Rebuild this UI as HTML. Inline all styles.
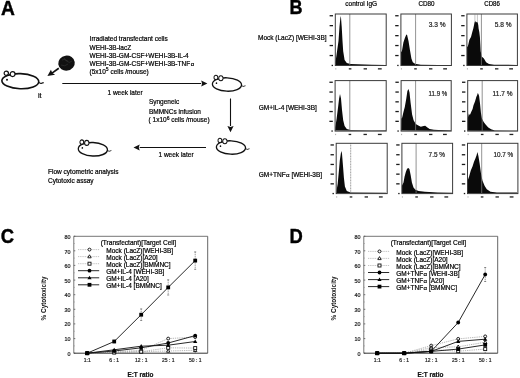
<!DOCTYPE html>
<html><head><meta charset="utf-8"><title>Figure</title>
<style>
html,body{margin:0;padding:0;background:#fff;width:520px;height:378px;overflow:hidden;}
svg{display:block;}
text{font-family:"Liberation Sans", Arial, Helvetica, sans-serif;}
</style></head>
<body>
<svg width="520" height="378" viewBox="0 0 520 378">
<rect width="520" height="378" fill="#fff"/>
<text transform="translate(0.9 14.75) scale(0.97 1)" font-size="19.8" font-weight="bold" fill="#000" stroke="#000" stroke-width="0.4">A</text>
<g transform="translate(1.10,72.90) scale(1.0,1.0)" stroke="#111" stroke-width="1.6" fill="none"><ellipse cx="19.2" cy="8.3" rx="18.45" ry="7.55" transform="rotate(2 19.2 8.3)" fill="#fff"/><path d="M38.0 9.4 Q39.3 10.9 40.6 10.4 Q41.6 9.9 42.6 9.7" stroke-width="1.1"/><circle cx="5.2" cy="0.3" r="2.15" fill="#fff" stroke-width="1.2"/><circle cx="11.5" cy="1.2" r="2.45" fill="#fff" stroke-width="1.2"/><circle cx="5.9" cy="6.8" r="1.0" fill="#111" stroke="none"/></g>
<g transform="translate(211.80,77.20) scale(0.79,0.88)" stroke="#111" stroke-width="1.65" fill="none"><ellipse cx="19.2" cy="8.3" rx="18.45" ry="7.55" transform="rotate(2 19.2 8.3)" fill="#fff"/><path d="M38.0 9.4 Q39.3 10.9 40.6 10.4 Q41.6 9.9 42.6 9.7" stroke-width="1.1"/><circle cx="5.2" cy="0.3" r="2.41" fill="#fff" stroke-width="1.2"/><circle cx="11.5" cy="1.2" r="2.74" fill="#fff" stroke-width="1.2"/><circle cx="5.9" cy="6.8" r="1.0" fill="#111" stroke="none"/></g>
<g transform="translate(215.80,140.20) scale(0.79,0.88)" stroke="#111" stroke-width="1.65" fill="none"><ellipse cx="19.2" cy="8.3" rx="18.45" ry="7.55" transform="rotate(2 19.2 8.3)" fill="#fff"/><path d="M38.0 9.4 Q39.3 10.9 40.6 10.4 Q41.6 9.9 42.6 9.7" stroke-width="1.1"/><circle cx="5.2" cy="0.3" r="2.41" fill="#fff" stroke-width="1.2"/><circle cx="11.5" cy="1.2" r="2.74" fill="#fff" stroke-width="1.2"/><circle cx="5.9" cy="6.8" r="1.0" fill="#111" stroke="none"/></g>
<g transform="translate(77.70,141.80) scale(0.79,0.9)" stroke="#111" stroke-width="1.65" fill="none"><ellipse cx="19.2" cy="8.3" rx="18.45" ry="7.55" transform="rotate(2 19.2 8.3)" fill="#fff"/><path d="M38.0 9.4 Q39.3 10.9 40.6 10.4 Q41.6 9.9 42.6 9.7" stroke-width="1.1"/><circle cx="5.2" cy="0.3" r="2.41" fill="#fff" stroke-width="1.2"/><circle cx="11.5" cy="1.2" r="2.74" fill="#fff" stroke-width="1.2"/><circle cx="5.9" cy="6.8" r="1.0" fill="#111" stroke="none"/></g>
<ellipse cx="66.5" cy="63.1" rx="8.3" ry="7.5" transform="rotate(-8 66.5 63.1)" fill="#111"/>
<path d="M62 60 q3 -2 5 1 q2 3 5 0 M61 65 q4 2 7 -1 M64 58 q2 4 4 3" stroke="#3a3a3a" stroke-width="0.5" fill="none"/>
<line x1="58.8" y1="68.3" x2="52.0" y2="73.1" stroke="#111" stroke-width="1.7"/>
<path d="M47.4 76.0 L50.9 69.8 L52.4 72.9 L55.1 74.7 Z" fill="#111"/>
<text x="37.90" y="98.30" font-size="7.2" font-weight="normal" text-anchor="start" fill="#000" stroke="#000" stroke-width="0.2" >it</text>
<text x="89.60" y="41.40" font-size="6.5" font-weight="normal" text-anchor="start" fill="#000" stroke="#000" stroke-width="0.2" >Irradiated transfectant cells</text>
<text x="89.60" y="49.50" font-size="6.5" font-weight="normal" text-anchor="start" fill="#000" stroke="#000" stroke-width="0.2" >WEHI-3B-lacZ</text>
<text x="89.60" y="57.60" font-size="6.5" font-weight="normal" text-anchor="start" fill="#000" stroke="#000" stroke-width="0.2" >WEHI-3B-GM-CSF+WEHI-3B-IL-4</text>
<text x="89.60" y="65.70" font-size="6.5" font-weight="normal" text-anchor="start" fill="#000" stroke="#000" stroke-width="0.2" >WEHI-3B-GM-CSF+WEHI-3B-TNF<tspan font-size="6.0" dx="0.6" dy="0.4">α</tspan></text>
<text x="89.60" y="73.80" font-size="6.5" font-weight="normal" text-anchor="start" fill="#000" stroke="#000" stroke-width="0.2" >(5x10<tspan font-size="5" dy="-2.5">5</tspan><tspan dy="2.5"> cells /mouse)</tspan></text>
<line x1="62.3" y1="83.5" x2="201.20000000000002" y2="83.5" stroke="#111" stroke-width="1.1"/>
<path d="M207.4 83.5 L201.20000000000002 80.4 L202.10000000000002 83.5 L201.20000000000002 86.6 Z" fill="#111"/>
<text x="107.50" y="95.00" font-size="6.5" font-weight="normal" text-anchor="start" fill="#000" stroke="#000" stroke-width="0.2" >1 week later</text>
<line x1="230.5" y1="98.5" x2="230.5" y2="125.99999999999999" stroke="#111" stroke-width="1.1"/>
<path d="M230.5 132.2 L227.4 125.99999999999999 L230.5 126.89999999999999 L233.6 125.99999999999999 Z" fill="#111"/>
<text x="148.90" y="104.40" font-size="6.5" font-weight="normal" text-anchor="start" fill="#000" stroke="#000" stroke-width="0.2" >Syngeneic</text>
<text x="148.90" y="113.70" font-size="6.5" font-weight="normal" text-anchor="start" fill="#000" stroke="#000" stroke-width="0.2" >BMMNCs infusion</text>
<text x="148.60" y="122.20" font-size="6.5" font-weight="normal" text-anchor="start" fill="#000" stroke="#000" stroke-width="0.2" >( 1x10<tspan font-size="5" dy="-2.5">6</tspan><tspan dy="2.5"> cells /mouse)</tspan></text>
<line x1="206.0" y1="147.5" x2="139.7" y2="147.5" stroke="#111" stroke-width="1.1"/>
<path d="M133.5 147.5 L139.7 144.4 L138.79999999999998 147.5 L139.7 150.6 Z" fill="#111"/>
<text x="158.50" y="156.50" font-size="6.5" font-weight="normal" text-anchor="start" fill="#000" stroke="#000" stroke-width="0.2" >1 week later</text>
<text x="48.10" y="173.80" font-size="6.5" font-weight="normal" text-anchor="start" fill="#000" stroke="#000" stroke-width="0.2" >Flow cytometric analysis</text>
<text x="48.00" y="182.70" font-size="6.5" font-weight="normal" text-anchor="start" fill="#000" stroke="#000" stroke-width="0.2" >Cytotoxic assay</text>
<text transform="translate(289.5 14.35) scale(0.92 1)" font-size="19.6" font-weight="bold" fill="#000" stroke="#000" stroke-width="0.4">B</text>
<text x="345.30" y="5.90" font-size="6.5" font-weight="normal" text-anchor="start" fill="#000" stroke="#000" stroke-width="0.2" >control IgG</text>
<text x="418.50" y="5.70" font-size="6.5" font-weight="normal" text-anchor="start" fill="#000" stroke="#000" stroke-width="0.2" textLength="16" lengthAdjust="spacingAndGlyphs">CD80</text>
<text x="484.30" y="5.70" font-size="6.5" font-weight="normal" text-anchor="start" fill="#000" stroke="#000" stroke-width="0.2" textLength="15.6" lengthAdjust="spacingAndGlyphs">CD86</text>
<text x="258.00" y="40.30" font-size="6.5" font-weight="normal" text-anchor="start" fill="#000" stroke="#000" stroke-width="0.2" >Mock (LacZ) [WEHI-3B]</text>
<text x="258.80" y="109.60" font-size="6.5" font-weight="normal" text-anchor="start" fill="#000" stroke="#000" stroke-width="0.2" >GM+IL-4 [WEHI-3B]</text>
<text x="258.80" y="176.60" font-size="6.5" font-weight="normal" text-anchor="start" fill="#000" stroke="#000" stroke-width="0.2" >GM+TNF<tspan font-size="6.2" dx="0.3">α</tspan> [WEHI-3B]</text>
<path d="M335.5 65.2 L335.5 62.0 L338.5 41.0 L339.5 26.5 L340.6 16.0 L341.0 17.8 L341.7 26.6 L342.5 41.1 L343.2 51.3 L344.6 60.0 L346.8 63.0 L350.5 64.1 L372.0 64.7 L386.0 64.9 L386.2 65.5 Z" fill="#0a0a0a"/>
<line x1="349.8" y1="14.0" x2="349.8" y2="65.5" stroke="#777" stroke-width="0.8"/>
<rect x="335.3" y="14.0" width="50.9" height="51.5" fill="none" stroke="#3a3a3a" stroke-width="1.0"/>
<rect x="331.6" y="64.8" width="1.4" height="1.3" fill="#1a1a1a"/>
<rect x="329.6" y="54.9" width="3.4" height="1.3" fill="#1a1a1a"/>
<rect x="329.6" y="44.9" width="3.4" height="1.3" fill="#1a1a1a"/>
<rect x="329.6" y="35.0" width="3.4" height="1.3" fill="#1a1a1a"/>
<rect x="329.6" y="25.0" width="3.4" height="1.3" fill="#1a1a1a"/>
<rect x="329.6" y="15.1" width="3.4" height="1.3" fill="#1a1a1a"/>
<rect x="335.3" y="68.2" width="1.0" height="1.3" fill="#aaa"/>
<rect x="348.8" y="68.2" width="2.6" height="1.3" fill="#222"/>
<rect x="363.6" y="68.2" width="3.4" height="1.3" fill="#222"/>
<rect x="377.9" y="68.2" width="3.8" height="1.3" fill="#222"/>
<path d="M401.0 65.2 L401.0 52.0 L401.9 51.3 L403.4 42.6 L404.8 38.2 L406.3 34.6 L407.1 35.0 L408.5 41.1 L409.9 49.8 L411.4 58.6 L412.8 62.2 L415.0 63.7 L420.8 64.7 L438.3 65.0 L451.0 65.1 L451.4 65.5 Z" fill="#0a0a0a"/>
<line x1="415.6" y1="14.0" x2="415.6" y2="65.5" stroke="#777" stroke-width="0.8"/>
<rect x="400.9" y="14.0" width="50.5" height="51.5" fill="none" stroke="#3a3a3a" stroke-width="1.0"/>
<rect x="397.2" y="64.8" width="1.4" height="1.3" fill="#1a1a1a"/>
<rect x="395.2" y="54.9" width="3.4" height="1.3" fill="#1a1a1a"/>
<rect x="395.2" y="44.9" width="3.4" height="1.3" fill="#1a1a1a"/>
<rect x="395.2" y="35.0" width="3.4" height="1.3" fill="#1a1a1a"/>
<rect x="395.2" y="25.0" width="3.4" height="1.3" fill="#1a1a1a"/>
<rect x="395.2" y="15.1" width="3.4" height="1.3" fill="#1a1a1a"/>
<rect x="400.9" y="68.2" width="1.0" height="1.3" fill="#aaa"/>
<rect x="414.2" y="68.2" width="2.6" height="1.3" fill="#222"/>
<rect x="429.0" y="68.2" width="3.4" height="1.3" fill="#222"/>
<rect x="443.2" y="68.2" width="3.8" height="1.3" fill="#222"/>
<text x="428.70" y="26.50" font-size="6.6" font-weight="normal" text-anchor="start" fill="#222" stroke="#222" stroke-width="0.2" textLength="16.9" lengthAdjust="spacingAndGlyphs">3.3 %</text>
<path d="M467.0 65.4 L467.0 46.9 L467.9 46.2 L469.4 39.7 L471.0 37.0 L472.3 31.9 L473.3 28.6 L474.0 25.2 L474.6 21.9 L475.5 21.3 L476.5 22.2 L477.6 21.9 L478.3 25.2 L478.6 28.6 L479.3 31.9 L479.9 37.0 L480.3 44.0 L480.7 51.3 L481.7 56.4 L483.9 58.6 L486.1 62.2 L489.0 64.1 L494.1 64.7 L517.0 64.9 L517.4 65.5 Z" fill="#0a0a0a"/>
<line x1="474.9" y1="14.5" x2="474.9" y2="22.5" stroke="#aaa" stroke-width="0.7"/>
<line x1="477.4" y1="14.5" x2="477.4" y2="22.5" stroke="#aaa" stroke-width="0.7"/>
<line x1="481.4" y1="14.0" x2="481.4" y2="65.5" stroke="#777" stroke-width="0.8"/>
<rect x="466.9" y="14.0" width="50.5" height="51.5" fill="none" stroke="#3a3a3a" stroke-width="1.0"/>
<rect x="463.2" y="64.8" width="1.4" height="1.3" fill="#1a1a1a"/>
<rect x="461.2" y="54.9" width="3.4" height="1.3" fill="#1a1a1a"/>
<rect x="461.2" y="44.9" width="3.4" height="1.3" fill="#1a1a1a"/>
<rect x="461.2" y="35.0" width="3.4" height="1.3" fill="#1a1a1a"/>
<rect x="461.2" y="25.0" width="3.4" height="1.3" fill="#1a1a1a"/>
<rect x="461.2" y="15.1" width="3.4" height="1.3" fill="#1a1a1a"/>
<rect x="466.9" y="68.2" width="1.0" height="1.3" fill="#aaa"/>
<rect x="480.2" y="68.2" width="2.6" height="1.3" fill="#222"/>
<rect x="495.0" y="68.2" width="3.4" height="1.3" fill="#222"/>
<rect x="509.2" y="68.2" width="3.8" height="1.3" fill="#222"/>
<text x="494.70" y="26.50" font-size="6.6" font-weight="normal" text-anchor="start" fill="#222" stroke="#222" stroke-width="0.2" textLength="16.8" lengthAdjust="spacingAndGlyphs">5.8 %</text>
<path d="M335.2 130.6 L335.3 127.5 L336.6 118.8 L338.1 107.1 L339.1 98.4 L340.0 94.0 L341.0 98.4 L342.0 110.0 L343.2 120.2 L344.6 126.0 L346.8 129.0 L350.5 130.1 L372.0 130.4 L386.0 130.5 L386.2 131.1 Z" fill="#0a0a0a"/>
<line x1="349.8" y1="80.6" x2="349.8" y2="131.1" stroke="#777" stroke-width="0.8"/>
<rect x="335.1" y="80.6" width="51.1" height="50.5" fill="none" stroke="#3a3a3a" stroke-width="1.0"/>
<rect x="331.4" y="130.4" width="1.4" height="1.3" fill="#1a1a1a"/>
<rect x="329.4" y="120.7" width="3.4" height="1.3" fill="#1a1a1a"/>
<rect x="329.4" y="110.9" width="3.4" height="1.3" fill="#1a1a1a"/>
<rect x="329.4" y="101.2" width="3.4" height="1.3" fill="#1a1a1a"/>
<rect x="329.4" y="91.4" width="3.4" height="1.3" fill="#1a1a1a"/>
<rect x="329.4" y="81.6" width="3.4" height="1.3" fill="#1a1a1a"/>
<rect x="335.1" y="133.8" width="1.0" height="1.3" fill="#aaa"/>
<rect x="348.6" y="133.8" width="2.6" height="1.3" fill="#222"/>
<rect x="363.5" y="133.8" width="3.4" height="1.3" fill="#222"/>
<rect x="377.9" y="133.8" width="3.8" height="1.3" fill="#222"/>
<path d="M401.1 130.6 L401.3 118.8 L402.2 117.6 L403.4 112.2 L404.8 107.1 L406.3 98.4 L407.4 91.1 L408.5 88.9 L409.5 92.6 L410.6 102.7 L412.1 114.4 L413.6 120.2 L415.7 123.9 L417.9 125.3 L420.8 126.8 L423.7 126.0 L425.2 125.7 L427.4 127.5 L429.6 128.9 L433.9 129.7 L438.3 130.1 L451.0 130.4 L451.2 131.1 Z" fill="#0a0a0a"/>
<line x1="415.6" y1="80.6" x2="415.6" y2="131.1" stroke="#777" stroke-width="0.8"/>
<rect x="401.1" y="80.6" width="50.1" height="50.5" fill="none" stroke="#3a3a3a" stroke-width="1.0"/>
<rect x="397.4" y="130.4" width="1.4" height="1.3" fill="#1a1a1a"/>
<rect x="395.4" y="120.7" width="3.4" height="1.3" fill="#1a1a1a"/>
<rect x="395.4" y="110.9" width="3.4" height="1.3" fill="#1a1a1a"/>
<rect x="395.4" y="101.2" width="3.4" height="1.3" fill="#1a1a1a"/>
<rect x="395.4" y="91.4" width="3.4" height="1.3" fill="#1a1a1a"/>
<rect x="395.4" y="81.6" width="3.4" height="1.3" fill="#1a1a1a"/>
<rect x="401.1" y="133.8" width="1.0" height="1.3" fill="#aaa"/>
<rect x="414.3" y="133.8" width="2.6" height="1.3" fill="#222"/>
<rect x="429.0" y="133.8" width="3.4" height="1.3" fill="#222"/>
<rect x="443.0" y="133.8" width="3.8" height="1.3" fill="#222"/>
<text x="428.60" y="95.60" font-size="6.6" font-weight="normal" text-anchor="start" fill="#222" stroke="#222" stroke-width="0.2" textLength="18.6" lengthAdjust="spacingAndGlyphs">11.9 %</text>
<path d="M467.8 130.8 L467.8 118.1 L468.9 113.5 L469.8 115.2 L471.3 111.7 L472.6 108.9 L473.5 105.2 L475.0 101.5 L476.3 96.9 L477.2 95.0 L477.8 93.0 L478.4 93.9 L479.1 95.9 L480.0 103.3 L480.9 112.6 L481.9 118.5 L483.7 121.9 L485.6 124.6 L488.3 127.4 L491.1 129.3 L494.8 130.6 L517.0 130.8 L517.6 131.1 Z" fill="#0a0a0a"/>
<line x1="482.2" y1="80.6" x2="482.2" y2="131.1" stroke="#777" stroke-width="0.8"/>
<rect x="467.7" y="80.6" width="49.9" height="50.5" fill="none" stroke="#3a3a3a" stroke-width="1.0"/>
<rect x="464.0" y="130.4" width="1.4" height="1.3" fill="#1a1a1a"/>
<rect x="462.0" y="120.7" width="3.4" height="1.3" fill="#1a1a1a"/>
<rect x="462.0" y="110.9" width="3.4" height="1.3" fill="#1a1a1a"/>
<rect x="462.0" y="101.2" width="3.4" height="1.3" fill="#1a1a1a"/>
<rect x="462.0" y="91.4" width="3.4" height="1.3" fill="#1a1a1a"/>
<rect x="462.0" y="81.6" width="3.4" height="1.3" fill="#1a1a1a"/>
<rect x="467.7" y="133.8" width="1.0" height="1.3" fill="#aaa"/>
<rect x="480.9" y="133.8" width="2.6" height="1.3" fill="#222"/>
<rect x="495.4" y="133.8" width="3.4" height="1.3" fill="#222"/>
<rect x="509.5" y="133.8" width="3.8" height="1.3" fill="#222"/>
<text x="492.60" y="95.60" font-size="6.6" font-weight="normal" text-anchor="start" fill="#222" stroke="#222" stroke-width="0.2" textLength="19.9" lengthAdjust="spacingAndGlyphs">11.7 %</text>
<path d="M336.4 193.0 L336.6 190.2 L337.7 183.7 L338.8 172.0 L339.8 160.4 L341.0 152.4 L341.4 150.9 L342.0 153.8 L342.9 164.7 L343.9 177.8 L344.9 186.6 L346.8 190.9 L350.5 192.4 L386.0 192.8 L387.2 193.6 Z" fill="#0a0a0a"/>
<line x1="350.7" y1="143.3" x2="350.7" y2="193.6" stroke="#777" stroke-width="0.8" stroke-dasharray="1 0.6"/>
<rect x="336.2" y="143.3" width="51.0" height="50.3" fill="none" stroke="#3a3a3a" stroke-width="1.0"/>
<rect x="332.5" y="192.9" width="1.4" height="1.3" fill="#1a1a1a"/>
<rect x="330.5" y="183.2" width="3.4" height="1.3" fill="#1a1a1a"/>
<rect x="330.5" y="173.5" width="3.4" height="1.3" fill="#1a1a1a"/>
<rect x="330.5" y="163.8" width="3.4" height="1.3" fill="#1a1a1a"/>
<rect x="330.5" y="154.1" width="3.4" height="1.3" fill="#1a1a1a"/>
<rect x="330.5" y="144.3" width="3.4" height="1.3" fill="#1a1a1a"/>
<rect x="336.2" y="196.3" width="1.0" height="1.3" fill="#aaa"/>
<rect x="349.7" y="196.3" width="2.6" height="1.3" fill="#222"/>
<rect x="364.6" y="196.3" width="3.4" height="1.3" fill="#222"/>
<rect x="378.9" y="196.3" width="3.8" height="1.3" fill="#222"/>
<path d="M401.9 193.2 L401.9 185.8 L403.5 182.6 L404.6 176.6 L405.9 171.8 L407.1 168.8 L408.3 167.9 L409.4 169.1 L410.6 174.7 L411.9 182.6 L413.5 187.4 L415.4 189.8 L418.6 190.9 L424.9 191.8 L437.6 192.5 L452.0 192.8 L452.6 193.6 Z" fill="#0a0a0a"/>
<line x1="416.1" y1="143.3" x2="416.1" y2="193.6" stroke="#777" stroke-width="0.8"/>
<rect x="401.9" y="143.3" width="50.7" height="50.3" fill="none" stroke="#3a3a3a" stroke-width="1.0"/>
<rect x="398.2" y="192.9" width="1.4" height="1.3" fill="#1a1a1a"/>
<rect x="396.2" y="183.2" width="3.4" height="1.3" fill="#1a1a1a"/>
<rect x="396.2" y="173.5" width="3.4" height="1.3" fill="#1a1a1a"/>
<rect x="396.2" y="163.8" width="3.4" height="1.3" fill="#1a1a1a"/>
<rect x="396.2" y="154.1" width="3.4" height="1.3" fill="#1a1a1a"/>
<rect x="396.2" y="144.3" width="3.4" height="1.3" fill="#1a1a1a"/>
<rect x="401.9" y="196.3" width="1.0" height="1.3" fill="#aaa"/>
<rect x="415.3" y="196.3" width="2.6" height="1.3" fill="#222"/>
<rect x="430.1" y="196.3" width="3.4" height="1.3" fill="#222"/>
<rect x="444.4" y="196.3" width="3.8" height="1.3" fill="#222"/>
<text x="428.60" y="156.60" font-size="6.6" font-weight="normal" text-anchor="start" fill="#222" stroke="#222" stroke-width="0.2" textLength="16.5" lengthAdjust="spacingAndGlyphs">7.5 %</text>
<path d="M467.4 193.0 L467.6 180.8 L469.1 176.4 L470.8 170.6 L472.6 166.2 L474.0 161.8 L475.5 158.2 L476.6 155.3 L477.4 152.0 L478.4 156.0 L479.6 163.3 L481.0 173.5 L482.5 180.8 L484.7 185.9 L486.8 189.2 L490.5 191.7 L497.0 192.4 L517.0 192.6 L517.9 193.6 Z" fill="#0a0a0a"/>
<line x1="481.7" y1="143.3" x2="481.7" y2="193.6" stroke="#777" stroke-width="0.8"/>
<rect x="467.5" y="143.3" width="50.4" height="50.3" fill="none" stroke="#3a3a3a" stroke-width="1.0"/>
<rect x="463.8" y="192.9" width="1.4" height="1.3" fill="#1a1a1a"/>
<rect x="461.8" y="183.2" width="3.4" height="1.3" fill="#1a1a1a"/>
<rect x="461.8" y="173.5" width="3.4" height="1.3" fill="#1a1a1a"/>
<rect x="461.8" y="163.8" width="3.4" height="1.3" fill="#1a1a1a"/>
<rect x="461.8" y="154.1" width="3.4" height="1.3" fill="#1a1a1a"/>
<rect x="461.8" y="144.3" width="3.4" height="1.3" fill="#1a1a1a"/>
<rect x="467.5" y="196.3" width="1.0" height="1.3" fill="#aaa"/>
<rect x="480.8" y="196.3" width="2.6" height="1.3" fill="#222"/>
<rect x="495.5" y="196.3" width="3.4" height="1.3" fill="#222"/>
<rect x="509.7" y="196.3" width="3.8" height="1.3" fill="#222"/>
<text x="493.40" y="156.60" font-size="6.6" font-weight="normal" text-anchor="start" fill="#222" stroke="#222" stroke-width="0.2" textLength="19.9" lengthAdjust="spacingAndGlyphs">10.7 %</text>
<text transform="translate(0.7 243.3) scale(0.93 1)" font-size="19.8" font-weight="bold" fill="#000" stroke="#000" stroke-width="0.4">C</text>
<line x1="73.8" y1="236.3" x2="207.7" y2="236.3" stroke="#666" stroke-width="0.9"/>
<line x1="207.7" y1="236.3" x2="207.7" y2="353.2" stroke="#555" stroke-width="0.9"/>
<line x1="73.8" y1="236.3" x2="73.8" y2="353.2" stroke="#777" stroke-width="1.0"/>
<line x1="73.8" y1="353.2" x2="207.7" y2="353.2" stroke="#333" stroke-width="1.0"/>
<text x="70.50" y="355.55" font-size="5.4" font-weight="normal" text-anchor="end" fill="#222" stroke="#222" stroke-width="0.2" >0</text>
<line x1="73.8" y1="353.2" x2="75.3" y2="353.2" stroke="#444" stroke-width="0.7"/>
<text x="70.50" y="341.00" font-size="5.4" font-weight="normal" text-anchor="end" fill="#222" stroke="#222" stroke-width="0.2" >10</text>
<line x1="73.8" y1="338.6" x2="75.3" y2="338.6" stroke="#444" stroke-width="0.7"/>
<text x="70.50" y="326.45" font-size="5.4" font-weight="normal" text-anchor="end" fill="#222" stroke="#222" stroke-width="0.2" >20</text>
<line x1="73.8" y1="323.9" x2="75.3" y2="323.9" stroke="#444" stroke-width="0.7"/>
<text x="70.50" y="311.90" font-size="5.4" font-weight="normal" text-anchor="end" fill="#222" stroke="#222" stroke-width="0.2" >30</text>
<line x1="73.8" y1="309.3" x2="75.3" y2="309.3" stroke="#444" stroke-width="0.7"/>
<text x="70.50" y="297.35" font-size="5.4" font-weight="normal" text-anchor="end" fill="#222" stroke="#222" stroke-width="0.2" >40</text>
<line x1="73.8" y1="294.7" x2="75.3" y2="294.7" stroke="#444" stroke-width="0.7"/>
<text x="70.50" y="282.80" font-size="5.4" font-weight="normal" text-anchor="end" fill="#222" stroke="#222" stroke-width="0.2" >50</text>
<line x1="73.8" y1="280.1" x2="75.3" y2="280.1" stroke="#444" stroke-width="0.7"/>
<text x="70.50" y="268.25" font-size="5.4" font-weight="normal" text-anchor="end" fill="#222" stroke="#222" stroke-width="0.2" >60</text>
<line x1="73.8" y1="265.4" x2="75.3" y2="265.4" stroke="#444" stroke-width="0.7"/>
<text x="70.50" y="253.70" font-size="5.4" font-weight="normal" text-anchor="end" fill="#222" stroke="#222" stroke-width="0.2" >70</text>
<line x1="73.8" y1="250.8" x2="75.3" y2="250.8" stroke="#444" stroke-width="0.7"/>
<text x="70.50" y="239.15" font-size="5.4" font-weight="normal" text-anchor="end" fill="#222" stroke="#222" stroke-width="0.2" >80</text>
<line x1="73.8" y1="236.2" x2="75.3" y2="236.2" stroke="#444" stroke-width="0.7"/>
<line x1="73.8" y1="345.9" x2="74.8" y2="345.9" stroke="#888" stroke-width="0.6"/>
<line x1="73.8" y1="331.3" x2="74.8" y2="331.3" stroke="#888" stroke-width="0.6"/>
<line x1="73.8" y1="316.6" x2="74.8" y2="316.6" stroke="#888" stroke-width="0.6"/>
<line x1="73.8" y1="302.0" x2="74.8" y2="302.0" stroke="#888" stroke-width="0.6"/>
<line x1="73.8" y1="287.4" x2="74.8" y2="287.4" stroke="#888" stroke-width="0.6"/>
<line x1="73.8" y1="272.8" x2="74.8" y2="272.8" stroke="#888" stroke-width="0.6"/>
<line x1="73.8" y1="258.1" x2="74.8" y2="258.1" stroke="#888" stroke-width="0.6"/>
<line x1="73.8" y1="243.5" x2="74.8" y2="243.5" stroke="#888" stroke-width="0.6"/>
<text x="87.20" y="362.20" font-size="5.0" font-weight="normal" text-anchor="middle" fill="#222" stroke="#222" stroke-width="0.2" >1:1</text>
<line x1="87.2" y1="353.2" x2="87.2" y2="351.9" stroke="#444" stroke-width="0.6"/>
<text x="114.20" y="362.20" font-size="5.0" font-weight="normal" text-anchor="middle" fill="#222" stroke="#222" stroke-width="0.2" >6 : 1</text>
<line x1="114.2" y1="353.2" x2="114.2" y2="351.9" stroke="#444" stroke-width="0.6"/>
<text x="141.20" y="362.20" font-size="5.0" font-weight="normal" text-anchor="middle" fill="#222" stroke="#222" stroke-width="0.2" >12 : 1</text>
<line x1="141.2" y1="353.2" x2="141.2" y2="351.9" stroke="#444" stroke-width="0.6"/>
<text x="168.20" y="362.20" font-size="5.0" font-weight="normal" text-anchor="middle" fill="#222" stroke="#222" stroke-width="0.2" >25 : 1</text>
<line x1="168.2" y1="353.2" x2="168.2" y2="351.9" stroke="#444" stroke-width="0.6"/>
<text x="195.20" y="362.20" font-size="5.0" font-weight="normal" text-anchor="middle" fill="#222" stroke="#222" stroke-width="0.2" >50 : 1</text>
<line x1="195.2" y1="353.2" x2="195.2" y2="351.9" stroke="#444" stroke-width="0.6"/>
<text x="140.40" y="376.60" font-size="6.4" font-weight="bold" text-anchor="middle" fill="#111" stroke="#111" stroke-width="0.2" >E:T ratio</text>
<text x="0" y="0" transform="translate(45.9 298.4) rotate(-90)" font-size="6.4" font-weight="bold" text-anchor="middle" fill="#111">% Cytotoxicity</text>
<text x="100.70" y="244.80" font-size="6.5" font-weight="normal" text-anchor="start" fill="#000" stroke="#000" stroke-width="0.2" textLength="75.4" lengthAdjust="spacingAndGlyphs">(Transfectant)[Target Cell]</text>
<line x1="78.0" y1="249.6" x2="99.19999999999999" y2="249.6" stroke="#999" stroke-width="0.6" stroke-dasharray="1.3 0.9"/>
<circle cx="89.5" cy="249.6" r="1.45" fill="#fff" stroke="#111" stroke-width="0.95"/>
<text x="106.30" y="253.20" font-size="6.5" font-weight="normal" text-anchor="start" fill="#000" stroke="#000" stroke-width="0.2" >Mock (LacZ)[WEHI-3B]</text>
<line x1="78.0" y1="256.6" x2="99.19999999999999" y2="256.6" stroke="#999" stroke-width="0.6" stroke-dasharray="1.3 0.9"/>
<path d="M89.5 254.8 L91.2 257.8 L87.8 257.8 Z" fill="#fff" stroke="#111" stroke-width="0.9"/>
<text x="106.30" y="260.24" font-size="6.5" font-weight="normal" text-anchor="start" fill="#000" stroke="#000" stroke-width="0.2" >Mock (LacZ)[A20]</text>
<line x1="78.0" y1="263.7" x2="99.19999999999999" y2="263.7" stroke="#999" stroke-width="0.6" stroke-dasharray="1.3 0.9"/>
<rect x="88.0" y="262.2" width="3" height="3" fill="#fff" stroke="#111" stroke-width="0.9"/>
<text x="106.30" y="267.28" font-size="6.5" font-weight="normal" text-anchor="start" fill="#000" stroke="#000" stroke-width="0.2" >Mock (LacZ)[BMMNC]</text>
<line x1="78.0" y1="270.7" x2="99.19999999999999" y2="270.7" stroke="#111" stroke-width="0.9"/>
<circle cx="89.5" cy="270.7" r="1.9" fill="#000"/>
<text x="106.30" y="274.32" font-size="6.5" font-weight="normal" text-anchor="start" fill="#000" stroke="#000" stroke-width="0.2" >GM+IL-4 [WEHI-3B]</text>
<line x1="78.0" y1="277.8" x2="99.19999999999999" y2="277.8" stroke="#111" stroke-width="0.9"/>
<path d="M89.5 275.7 L91.6 279.3 L87.4 279.3 Z" fill="#000"/>
<text x="106.30" y="281.36" font-size="6.5" font-weight="normal" text-anchor="start" fill="#000" stroke="#000" stroke-width="0.2" >GM+IL-4 [A20]</text>
<line x1="78.0" y1="284.8" x2="99.19999999999999" y2="284.8" stroke="#111" stroke-width="0.9"/>
<rect x="87.6" y="282.9" width="3.8" height="3.8" fill="#000"/>
<text x="106.30" y="288.40" font-size="6.5" font-weight="normal" text-anchor="start" fill="#000" stroke="#000" stroke-width="0.2" >GM+IL-4 [BMMNC]</text>
<polyline points="87.2,353.2 114.2,351.7 141.2,350.3 168.2,338.6 195.2,337.1" fill="none" stroke="#888" stroke-width="0.6" stroke-dasharray="1.3 0.9"/>
<polyline points="87.2,353.2 114.2,352.5 141.2,351.7 168.2,351.0 195.2,350.3" fill="none" stroke="#888" stroke-width="0.6" stroke-dasharray="1.3 0.9"/>
<polyline points="87.2,353.2 114.2,352.5 141.2,351.7 168.2,347.8 195.2,348.1" fill="none" stroke="#888" stroke-width="0.6" stroke-dasharray="1.3 0.9"/>
<polyline points="87.2,353.2 114.2,351.0 141.2,347.8 168.2,343.0 195.2,335.6" fill="none" stroke="#111" stroke-width="0.9"/>
<polyline points="87.2,353.2 114.2,349.8 141.2,346.2 168.2,345.2 195.2,341.5" fill="none" stroke="#111" stroke-width="0.9"/>
<polyline points="87.2,353.2 114.2,341.5 141.2,314.7 168.2,287.4 195.2,260.6" fill="none" stroke="#111" stroke-width="0.9"/>
<line x1="114.2" y1="340.3" x2="114.2" y2="342.7" stroke="#555" stroke-width="0.6" stroke-dasharray="1.2 0.7"/>
<line x1="113.2" y1="340.3" x2="115.2" y2="340.3" stroke="#444" stroke-width="0.6"/>
<line x1="113.2" y1="342.7" x2="115.2" y2="342.7" stroke="#444" stroke-width="0.6"/>
<line x1="141.2" y1="308.9" x2="141.2" y2="320.5" stroke="#555" stroke-width="0.6" stroke-dasharray="1.2 0.7"/>
<line x1="140.2" y1="308.9" x2="142.2" y2="308.9" stroke="#444" stroke-width="0.6"/>
<line x1="140.2" y1="320.5" x2="142.2" y2="320.5" stroke="#444" stroke-width="0.6"/>
<line x1="168.2" y1="279.8" x2="168.2" y2="295.0" stroke="#555" stroke-width="0.6" stroke-dasharray="1.2 0.7"/>
<line x1="167.2" y1="279.8" x2="169.2" y2="279.8" stroke="#444" stroke-width="0.6"/>
<line x1="167.2" y1="295.0" x2="169.2" y2="295.0" stroke="#444" stroke-width="0.6"/>
<line x1="195.2" y1="251.9" x2="195.2" y2="269.3" stroke="#555" stroke-width="0.6" stroke-dasharray="1.2 0.7"/>
<line x1="194.2" y1="251.9" x2="196.2" y2="251.9" stroke="#444" stroke-width="0.6"/>
<line x1="194.2" y1="269.3" x2="196.2" y2="269.3" stroke="#444" stroke-width="0.6"/>
<circle cx="87.2" cy="353.2" r="1.45" fill="#fff" stroke="#111" stroke-width="0.95"/>
<circle cx="114.2" cy="351.7" r="1.45" fill="#fff" stroke="#111" stroke-width="0.95"/>
<circle cx="141.2" cy="350.3" r="1.45" fill="#fff" stroke="#111" stroke-width="0.95"/>
<circle cx="168.2" cy="338.6" r="1.45" fill="#fff" stroke="#111" stroke-width="0.95"/>
<circle cx="195.2" cy="337.1" r="1.45" fill="#fff" stroke="#111" stroke-width="0.95"/>
<path d="M87.2 351.4 L88.9 354.4 L85.5 354.4 Z" fill="#fff" stroke="#111" stroke-width="0.9"/>
<path d="M114.2 350.7 L115.9 353.7 L112.5 353.7 Z" fill="#fff" stroke="#111" stroke-width="0.9"/>
<path d="M141.2 349.9 L142.9 352.9 L139.5 352.9 Z" fill="#fff" stroke="#111" stroke-width="0.9"/>
<path d="M168.2 349.2 L169.9 352.2 L166.5 352.2 Z" fill="#fff" stroke="#111" stroke-width="0.9"/>
<path d="M195.2 348.5 L196.9 351.5 L193.5 351.5 Z" fill="#fff" stroke="#111" stroke-width="0.9"/>
<rect x="85.7" y="351.7" width="3" height="3" fill="#fff" stroke="#111" stroke-width="0.9"/>
<rect x="112.7" y="351.0" width="3" height="3" fill="#fff" stroke="#111" stroke-width="0.9"/>
<rect x="139.7" y="350.2" width="3" height="3" fill="#fff" stroke="#111" stroke-width="0.9"/>
<rect x="166.7" y="346.3" width="3" height="3" fill="#fff" stroke="#111" stroke-width="0.9"/>
<rect x="193.7" y="346.6" width="3" height="3" fill="#fff" stroke="#111" stroke-width="0.9"/>
<circle cx="87.2" cy="353.2" r="1.9" fill="#000"/>
<circle cx="114.2" cy="351.0" r="1.9" fill="#000"/>
<circle cx="141.2" cy="347.8" r="1.9" fill="#000"/>
<circle cx="168.2" cy="343.0" r="1.9" fill="#000"/>
<circle cx="195.2" cy="335.6" r="1.9" fill="#000"/>
<path d="M87.2 351.1 L89.3 354.7 L85.1 354.7 Z" fill="#000"/>
<path d="M114.2 347.7 L116.3 351.3 L112.1 351.3 Z" fill="#000"/>
<path d="M141.2 344.1 L143.3 347.7 L139.1 347.7 Z" fill="#000"/>
<path d="M168.2 343.1 L170.3 346.7 L166.1 346.7 Z" fill="#000"/>
<path d="M195.2 339.4 L197.3 343.0 L193.1 343.0 Z" fill="#000"/>
<rect x="85.3" y="351.3" width="3.8" height="3.8" fill="#000"/>
<rect x="112.3" y="339.6" width="3.8" height="3.8" fill="#000"/>
<rect x="139.3" y="312.8" width="3.8" height="3.8" fill="#000"/>
<rect x="166.3" y="285.5" width="3.8" height="3.8" fill="#000"/>
<rect x="193.3" y="258.7" width="3.8" height="3.8" fill="#000"/>
<text transform="translate(289.5 243.3) scale(0.93 1)" font-size="19.8" font-weight="bold" fill="#000" stroke="#000" stroke-width="0.4">D</text>
<line x1="363.8" y1="236.3" x2="497.7" y2="236.3" stroke="#666" stroke-width="0.9"/>
<line x1="497.7" y1="236.3" x2="497.7" y2="353.2" stroke="#555" stroke-width="0.9"/>
<line x1="363.8" y1="236.3" x2="363.8" y2="353.2" stroke="#777" stroke-width="1.0"/>
<line x1="363.8" y1="353.2" x2="497.7" y2="353.2" stroke="#333" stroke-width="1.0"/>
<text x="360.50" y="355.55" font-size="5.4" font-weight="normal" text-anchor="end" fill="#222" stroke="#222" stroke-width="0.2" >0</text>
<line x1="363.8" y1="353.2" x2="365.3" y2="353.2" stroke="#444" stroke-width="0.7"/>
<text x="360.50" y="341.00" font-size="5.4" font-weight="normal" text-anchor="end" fill="#222" stroke="#222" stroke-width="0.2" >10</text>
<line x1="363.8" y1="338.6" x2="365.3" y2="338.6" stroke="#444" stroke-width="0.7"/>
<text x="360.50" y="326.45" font-size="5.4" font-weight="normal" text-anchor="end" fill="#222" stroke="#222" stroke-width="0.2" >20</text>
<line x1="363.8" y1="323.9" x2="365.3" y2="323.9" stroke="#444" stroke-width="0.7"/>
<text x="360.50" y="311.90" font-size="5.4" font-weight="normal" text-anchor="end" fill="#222" stroke="#222" stroke-width="0.2" >30</text>
<line x1="363.8" y1="309.3" x2="365.3" y2="309.3" stroke="#444" stroke-width="0.7"/>
<text x="360.50" y="297.35" font-size="5.4" font-weight="normal" text-anchor="end" fill="#222" stroke="#222" stroke-width="0.2" >40</text>
<line x1="363.8" y1="294.7" x2="365.3" y2="294.7" stroke="#444" stroke-width="0.7"/>
<text x="360.50" y="282.80" font-size="5.4" font-weight="normal" text-anchor="end" fill="#222" stroke="#222" stroke-width="0.2" >50</text>
<line x1="363.8" y1="280.1" x2="365.3" y2="280.1" stroke="#444" stroke-width="0.7"/>
<text x="360.50" y="268.25" font-size="5.4" font-weight="normal" text-anchor="end" fill="#222" stroke="#222" stroke-width="0.2" >60</text>
<line x1="363.8" y1="265.4" x2="365.3" y2="265.4" stroke="#444" stroke-width="0.7"/>
<text x="360.50" y="253.70" font-size="5.4" font-weight="normal" text-anchor="end" fill="#222" stroke="#222" stroke-width="0.2" >70</text>
<line x1="363.8" y1="250.8" x2="365.3" y2="250.8" stroke="#444" stroke-width="0.7"/>
<text x="360.50" y="239.15" font-size="5.4" font-weight="normal" text-anchor="end" fill="#222" stroke="#222" stroke-width="0.2" >80</text>
<line x1="363.8" y1="236.2" x2="365.3" y2="236.2" stroke="#444" stroke-width="0.7"/>
<line x1="363.8" y1="345.9" x2="364.8" y2="345.9" stroke="#888" stroke-width="0.6"/>
<line x1="363.8" y1="331.3" x2="364.8" y2="331.3" stroke="#888" stroke-width="0.6"/>
<line x1="363.8" y1="316.6" x2="364.8" y2="316.6" stroke="#888" stroke-width="0.6"/>
<line x1="363.8" y1="302.0" x2="364.8" y2="302.0" stroke="#888" stroke-width="0.6"/>
<line x1="363.8" y1="287.4" x2="364.8" y2="287.4" stroke="#888" stroke-width="0.6"/>
<line x1="363.8" y1="272.8" x2="364.8" y2="272.8" stroke="#888" stroke-width="0.6"/>
<line x1="363.8" y1="258.1" x2="364.8" y2="258.1" stroke="#888" stroke-width="0.6"/>
<line x1="363.8" y1="243.5" x2="364.8" y2="243.5" stroke="#888" stroke-width="0.6"/>
<text x="377.20" y="362.20" font-size="5.0" font-weight="normal" text-anchor="middle" fill="#222" stroke="#222" stroke-width="0.2" >1:1</text>
<line x1="377.2" y1="353.2" x2="377.2" y2="351.9" stroke="#444" stroke-width="0.6"/>
<text x="404.20" y="362.20" font-size="5.0" font-weight="normal" text-anchor="middle" fill="#222" stroke="#222" stroke-width="0.2" >6 : 1</text>
<line x1="404.2" y1="353.2" x2="404.2" y2="351.9" stroke="#444" stroke-width="0.6"/>
<text x="431.20" y="362.20" font-size="5.0" font-weight="normal" text-anchor="middle" fill="#222" stroke="#222" stroke-width="0.2" >12 : 1</text>
<line x1="431.2" y1="353.2" x2="431.2" y2="351.9" stroke="#444" stroke-width="0.6"/>
<text x="458.20" y="362.20" font-size="5.0" font-weight="normal" text-anchor="middle" fill="#222" stroke="#222" stroke-width="0.2" >25 : 1</text>
<line x1="458.2" y1="353.2" x2="458.2" y2="351.9" stroke="#444" stroke-width="0.6"/>
<text x="485.20" y="362.20" font-size="5.0" font-weight="normal" text-anchor="middle" fill="#222" stroke="#222" stroke-width="0.2" >50 : 1</text>
<line x1="485.2" y1="353.2" x2="485.2" y2="351.9" stroke="#444" stroke-width="0.6"/>
<text x="430.40" y="376.60" font-size="6.4" font-weight="bold" text-anchor="middle" fill="#111" stroke="#111" stroke-width="0.2" >E:T ratio</text>
<text x="0" y="0" transform="translate(335.9 298.4) rotate(-90)" font-size="6.4" font-weight="bold" text-anchor="middle" fill="#111">% Cytotoxicity</text>
<text x="390.70" y="244.80" font-size="6.5" font-weight="normal" text-anchor="start" fill="#000" stroke="#000" stroke-width="0.2" textLength="75.4" lengthAdjust="spacingAndGlyphs">(Transfectant)[Target Cell]</text>
<line x1="368.0" y1="251.4" x2="389.2" y2="251.4" stroke="#999" stroke-width="0.6" stroke-dasharray="1.3 0.9"/>
<circle cx="379.5" cy="251.4" r="1.45" fill="#fff" stroke="#111" stroke-width="0.95"/>
<text x="396.30" y="255.00" font-size="6.5" font-weight="normal" text-anchor="start" fill="#000" stroke="#000" stroke-width="0.2" >Mock (LacZ)[WEHI-3B]</text>
<line x1="368.0" y1="258.4" x2="389.2" y2="258.4" stroke="#999" stroke-width="0.6" stroke-dasharray="1.3 0.9"/>
<path d="M379.5 256.6 L381.2 259.6 L377.8 259.6 Z" fill="#fff" stroke="#111" stroke-width="0.9"/>
<text x="396.30" y="262.04" font-size="6.5" font-weight="normal" text-anchor="start" fill="#000" stroke="#000" stroke-width="0.2" >Mock (LacZ)[A20]</text>
<line x1="368.0" y1="265.5" x2="389.2" y2="265.5" stroke="#999" stroke-width="0.6" stroke-dasharray="1.3 0.9"/>
<rect x="378.0" y="264.0" width="3" height="3" fill="#fff" stroke="#111" stroke-width="0.9"/>
<text x="396.30" y="269.08" font-size="6.5" font-weight="normal" text-anchor="start" fill="#000" stroke="#000" stroke-width="0.2" >Mock (LacZ)[BMMNC]</text>
<line x1="368.0" y1="272.5" x2="389.2" y2="272.5" stroke="#111" stroke-width="0.9"/>
<circle cx="379.5" cy="272.5" r="1.9" fill="#000"/>
<text x="396.30" y="276.12" font-size="6.5" font-weight="normal" text-anchor="start" fill="#000" stroke="#000" stroke-width="0.2" >GM+TNF<tspan font-size="6.2" dx="0.3">α</tspan> [WEHI-3B]</text>
<line x1="368.0" y1="279.6" x2="389.2" y2="279.6" stroke="#111" stroke-width="0.9"/>
<path d="M379.5 277.5 L381.6 281.1 L377.4 281.1 Z" fill="#000"/>
<text x="396.30" y="283.16" font-size="6.5" font-weight="normal" text-anchor="start" fill="#000" stroke="#000" stroke-width="0.2" >GM+TNF<tspan font-size="6.2" dx="0.3">α</tspan> [A20]</text>
<line x1="368.0" y1="286.6" x2="389.2" y2="286.6" stroke="#111" stroke-width="0.9"/>
<rect x="377.6" y="284.7" width="3.8" height="3.8" fill="#000"/>
<text x="396.30" y="290.20" font-size="6.5" font-weight="normal" text-anchor="start" fill="#000" stroke="#000" stroke-width="0.2" >GM+TNF<tspan font-size="6.2" dx="0.3">α</tspan> [BMMNC]</text>
<polyline points="377.2,353.2 404.2,353.2 431.2,345.6 458.2,338.9 485.2,336.4" fill="none" stroke="#888" stroke-width="0.6" stroke-dasharray="1.3 0.9"/>
<polyline points="377.2,353.2 404.2,353.2 431.2,347.6 458.2,346.8 485.2,342.2" fill="none" stroke="#888" stroke-width="0.6" stroke-dasharray="1.3 0.9"/>
<polyline points="377.2,353.2 404.2,353.2 431.2,349.5 458.2,351.2 485.2,349.1" fill="none" stroke="#888" stroke-width="0.6" stroke-dasharray="1.3 0.9"/>
<polyline points="377.2,353.2 404.2,353.2 431.2,351.4 458.2,322.5 485.2,274.5" fill="none" stroke="#111" stroke-width="0.9"/>
<polyline points="377.2,353.2 404.2,353.2 431.2,351.4 458.2,341.4 485.2,339.2" fill="none" stroke="#111" stroke-width="0.9"/>
<polyline points="377.2,353.2 404.2,353.2 431.2,351.4 458.2,349.1 485.2,344.9" fill="none" stroke="#111" stroke-width="0.9"/>
<line x1="485.2" y1="267.5" x2="485.2" y2="281.5" stroke="#555" stroke-width="0.6" stroke-dasharray="1.2 0.7"/>
<line x1="484.2" y1="267.5" x2="486.2" y2="267.5" stroke="#444" stroke-width="0.6"/>
<line x1="484.2" y1="281.5" x2="486.2" y2="281.5" stroke="#444" stroke-width="0.6"/>
<line x1="458.2" y1="321.5" x2="458.2" y2="323.5" stroke="#555" stroke-width="0.6" stroke-dasharray="1.2 0.7"/>
<line x1="457.2" y1="321.5" x2="459.2" y2="321.5" stroke="#444" stroke-width="0.6"/>
<line x1="457.2" y1="323.5" x2="459.2" y2="323.5" stroke="#444" stroke-width="0.6"/>
<circle cx="377.2" cy="353.2" r="1.45" fill="#fff" stroke="#111" stroke-width="0.95"/>
<circle cx="404.2" cy="353.2" r="1.45" fill="#fff" stroke="#111" stroke-width="0.95"/>
<circle cx="431.2" cy="345.6" r="1.45" fill="#fff" stroke="#111" stroke-width="0.95"/>
<circle cx="458.2" cy="338.9" r="1.45" fill="#fff" stroke="#111" stroke-width="0.95"/>
<circle cx="485.2" cy="336.4" r="1.45" fill="#fff" stroke="#111" stroke-width="0.95"/>
<path d="M377.2 351.4 L378.9 354.4 L375.5 354.4 Z" fill="#fff" stroke="#111" stroke-width="0.9"/>
<path d="M404.2 351.4 L405.9 354.4 L402.5 354.4 Z" fill="#fff" stroke="#111" stroke-width="0.9"/>
<path d="M431.2 345.8 L432.9 348.8 L429.5 348.8 Z" fill="#fff" stroke="#111" stroke-width="0.9"/>
<path d="M458.2 345.0 L459.9 348.0 L456.5 348.0 Z" fill="#fff" stroke="#111" stroke-width="0.9"/>
<path d="M485.2 340.4 L486.9 343.4 L483.5 343.4 Z" fill="#fff" stroke="#111" stroke-width="0.9"/>
<rect x="375.7" y="351.7" width="3" height="3" fill="#fff" stroke="#111" stroke-width="0.9"/>
<rect x="402.7" y="351.7" width="3" height="3" fill="#fff" stroke="#111" stroke-width="0.9"/>
<rect x="429.7" y="348.0" width="3" height="3" fill="#fff" stroke="#111" stroke-width="0.9"/>
<rect x="456.7" y="349.7" width="3" height="3" fill="#fff" stroke="#111" stroke-width="0.9"/>
<rect x="483.7" y="347.6" width="3" height="3" fill="#fff" stroke="#111" stroke-width="0.9"/>
<circle cx="377.2" cy="353.2" r="1.9" fill="#000"/>
<circle cx="404.2" cy="353.2" r="1.9" fill="#000"/>
<circle cx="431.2" cy="351.4" r="1.9" fill="#000"/>
<circle cx="458.2" cy="322.5" r="1.9" fill="#000"/>
<circle cx="485.2" cy="274.5" r="1.9" fill="#000"/>
<path d="M377.2 351.1 L379.3 354.7 L375.1 354.7 Z" fill="#000"/>
<path d="M404.2 351.1 L406.3 354.7 L402.1 354.7 Z" fill="#000"/>
<path d="M431.2 349.3 L433.3 352.9 L429.1 352.9 Z" fill="#000"/>
<path d="M458.2 339.3 L460.3 342.9 L456.1 342.9 Z" fill="#000"/>
<path d="M485.2 337.1 L487.3 340.7 L483.1 340.7 Z" fill="#000"/>
<rect x="375.3" y="351.3" width="3.8" height="3.8" fill="#000"/>
<rect x="402.3" y="351.3" width="3.8" height="3.8" fill="#000"/>
<rect x="429.3" y="349.5" width="3.8" height="3.8" fill="#000"/>
<rect x="456.3" y="347.2" width="3.8" height="3.8" fill="#000"/>
<rect x="483.3" y="343.0" width="3.8" height="3.8" fill="#000"/>
</svg>
</body></html>
